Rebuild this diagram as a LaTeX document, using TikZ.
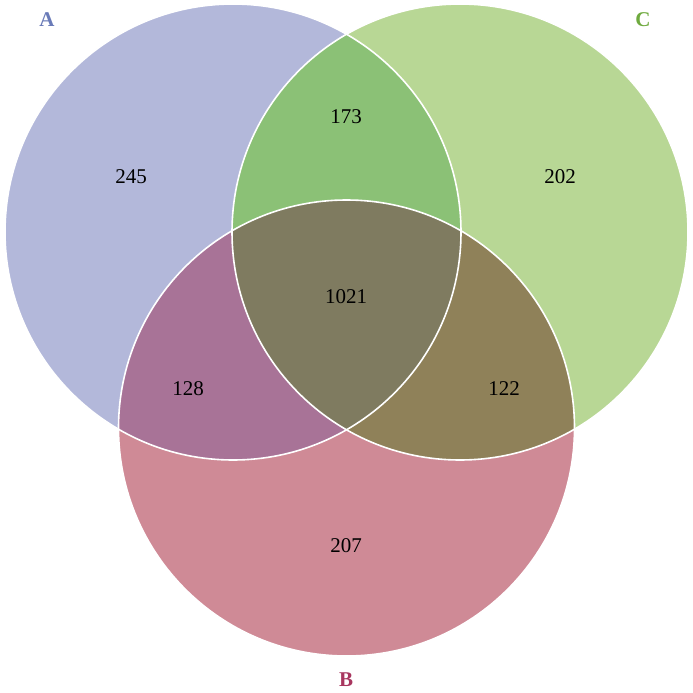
\documentclass[tikz,border=0pt]{standalone}
\usepackage{fontspec}
\setmainfont{Liberation Serif}
\definecolor{cA}{RGB}{179,184,218}
\definecolor{cB}{RGB}{207,138,150}
\definecolor{cC}{RGB}{184,215,149}
\definecolor{cAC}{RGB}{139,193,118}
\definecolor{cAB}{RGB}{168,115,151}
\definecolor{cBC}{RGB}{143,129,89}
\definecolor{cABC}{RGB}{127,123,96}
\definecolor{tA}{RGB}{106,123,184}
\definecolor{tB}{RGB}{168,54,95}
\definecolor{tC}{RGB}{111,170,63}
\tikzset{
  num/.style={font=\fontsize{21}{23}\selectfont, text=black},
  setlabel/.style={font=\fontsize{21}{23}\selectfont\bfseries},
  rim/.style={draw=white, line width=1.6pt}
}
\begin{document}
\begin{tikzpicture}[x=1pt,y=-1pt]
\useasboundingbox (0,0) rectangle (693,693);
\def\rr{228}
\coordinate (ca) at (233,232);
\coordinate (cc) at (460,232);
\coordinate (cb) at (346.5,428);
% base circles
\fill[cA] (ca) circle (\rr);
\fill[cC] (cc) circle (\rr);
\fill[cB] (cb) circle (\rr);
% pairwise
\begin{scope}\clip (ca) circle (\rr); \fill[cAC] (cc) circle (\rr); \end{scope}
\begin{scope}\clip (ca) circle (\rr); \fill[cAB] (cb) circle (\rr); \end{scope}
\begin{scope}\clip (cc) circle (\rr); \fill[cBC] (cb) circle (\rr); \end{scope}
% triple
\begin{scope}\clip (ca) circle (\rr); \clip (cc) circle (\rr); \fill[cABC] (cb) circle (\rr); \end{scope}
% outlines
\draw[rim] (ca) circle (\rr);
\draw[rim] (cc) circle (\rr);
\draw[rim] (cb) circle (\rr);
% numbers
\node[num] (n245) at (131,177) {245};
\node[num] (n173) at (346,117) {173};
\node[num] (n202) at (560,177) {202};
\node[num] (n1021) at (346,297) {1021};
\node[num] (n128) at (188,389) {128};
\node[num] (n122) at (504,389) {122};
\node[num] (n207) at (346,546) {207};
% set labels
\node[setlabel, text=tA] (lA) at (47,20) {A};
\node[setlabel, text=tC] (lC) at (643,20) {C};
\node[setlabel, text=tB] (lB) at (346,680) {B};
\end{tikzpicture}
\end{document}
